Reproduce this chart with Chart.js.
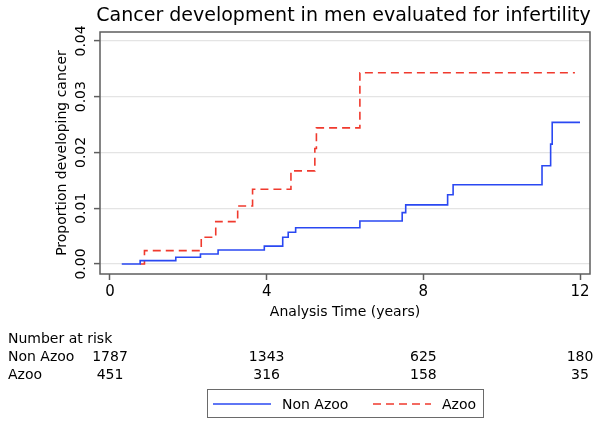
<!DOCTYPE html>
<html lang="en">

<head>
    <meta charset="UTF-8">
    <title>Cancer development in men evaluated for infertility</title>
    <script src="https://cdn.jsdelivr.net/npm/chart.js"></script>
    <style>
        body { margin: 0; background: #fff; }
    </style>
</head>

<body>
    <canvas id="kmChart" width="602" height="428"></canvas>
    <script>
        // step curves (time in years, cumulative proportion)
        const nonAzooTimes = [0.3, 0.77, 1.68, 2.31, 2.76, 3.94, 4.41, 4.55, 4.74, 6.38, 7.46, 7.55, 8.62, 8.76, 11.03, 11.25, 11.29, 12.0];
        const nonAzooProps = [0, 0.0006, 0.0012, 0.0018, 0.0025, 0.0032, 0.0048, 0.0057, 0.0065, 0.0077, 0.0092, 0.0106, 0.0124, 0.0142, 0.0176, 0.0215, 0.0254, 0.0254];
        const azooTimes = [0.77, 0.88, 2.33, 2.7, 3.26, 3.64, 4.62, 5.23, 5.27, 6.38, 11.87];
        const azooProps = [0, 0.0024, 0.0048, 0.0076, 0.0104, 0.0134, 0.0167, 0.0207, 0.0244, 0.0343, 0.0343];

        // number at risk table
        const riskTimes = [0, 4, 8, 12];
        const riskNonAzoo = [1787, 1343, 625, 180];
        const riskAzoo = [451, 316, 158, 35];

        const FONT = 'DejaVu Sans';
        const BLUE = '#2a48f2';
        const RED = '#f03a2e';

        function toPoints(times, props) {
            return times.map((t, i) => ({ x: t, y: props[i] }));
        }

        // title, frame, number-at-risk rows and the boxed legend
        const extras = {
            id: 'extras',
            afterDraw(chart) {
                const ctx = chart.ctx;
                const area = chart.chartArea;
                const xs = chart.scales.x;
                ctx.save();

                ctx.strokeStyle = '#5e5e5e';
                ctx.lineWidth = 1.5;
                ctx.strokeRect(area.left, area.top, area.right - area.left, area.bottom - area.top);

                ctx.fillStyle = '#000';
                ctx.textBaseline = 'middle';
                ctx.font = '19px ' + FONT;
                ctx.textAlign = 'center';
                ctx.fillText('Cancer development in men evaluated for infertility', 343.5, 16.5);

                ctx.font = '14px ' + FONT;
                ctx.textAlign = 'left';
                ctx.fillText('Number at risk', 8, 339);
                ctx.fillText('Non Azoo', 8, 357);
                ctx.fillText('Azoo', 8, 375);
                ctx.textAlign = 'center';
                riskTimes.forEach((t, i) => {
                    const px = xs.getPixelForValue(t);
                    ctx.fillText(String(riskNonAzoo[i]), px, 357);
                    ctx.fillText(String(riskAzoo[i]), px, 375);
                });

                // legend box
                ctx.strokeStyle = '#6a6a6a';
                ctx.lineWidth = 1;
                ctx.strokeRect(207.5, 389.5, 276, 28);
                const ly = 404;
                chart.data.datasets.forEach((ds, i) => {
                    const x0 = i === 0 ? 213 : 373;
                    ctx.beginPath();
                    ctx.strokeStyle = ds.borderColor;
                    ctx.lineWidth = ds.borderWidth;
                    ctx.setLineDash(ds.borderDash || []);
                    ctx.moveTo(x0, ly);
                    ctx.lineTo(x0 + 58, ly);
                    ctx.stroke();
                    ctx.setLineDash([]);
                    ctx.textAlign = 'left';
                    ctx.fillText(ds.label, i === 0 ? 282 : 442, ly + 1);
                });
                ctx.restore();
            }
        };

        const ctx = document.getElementById('kmChart').getContext('2d');
        new Chart(ctx, {
            type: 'line',
            data: {
                datasets: [
                    {
                        label: 'Non Azoo',
                        data: toPoints(nonAzooTimes, nonAzooProps),
                        borderColor: BLUE,
                        borderWidth: 1.6,
                        stepped: 'before',
                        pointRadius: 0,
                        fill: false
                    },
                    {
                        label: 'Azoo',
                        data: toPoints(azooTimes, azooProps),
                        borderColor: RED,
                        borderWidth: 1.6,
                        borderDash: [8, 5],
                        stepped: 'before',
                        pointRadius: 0,
                        fill: false
                    }
                ]
            },
            options: {
                responsive: false,
                animation: false,
                layout: { padding: { left: 40, right: 12, top: 32, bottom: 104 } },
                plugins: {
                    legend: { display: false },
                    tooltip: { enabled: false }
                },
                scales: {
                    x: {
                        type: 'linear',
                        min: -0.255,
                        max: 12.255,
                        afterFit(scale) { scale.height = 50; },
                        border: { display: false },
                        grid: { drawOnChartArea: false, tickLength: 6, tickColor: '#5e5e5e', tickWidth: 1.5 },
                        ticks: { stepSize: 4, includeBounds: false, color: '#000', padding: 3, font: { family: FONT, size: 15 } },
                        title: {
                            display: true,
                            text: 'Analysis Time (years)',
                            color: '#000',
                            font: { family: FONT, size: 14 },
                            padding: { top: 0, bottom: 3.6 }
                        }
                    },
                    y: {
                        min: -0.0018,
                        max: 0.0416,
                        afterFit(scale) { scale.width = 60; },
                        border: { display: false },
                        grid: { color: '#e4e4e4', lineWidth: 1.2, tickLength: 6, tickColor: '#5e5e5e', tickWidth: 1.5 },
                        ticks: {
                            stepSize: 0.01,
                            includeBounds: false,
                            minRotation: 90,
                            maxRotation: 90,
                            crossAlign: 'center',
                            padding: -3,
                            color: '#000',
                            font: { family: FONT, size: 14 },
                            callback: v => v.toFixed(2)
                        },
                        title: {
                            display: true,
                            text: 'Proportion developing cancer',
                            color: '#000',
                            font: { family: FONT, size: 14 },
                            padding: { top: 13.6, bottom: 0 }
                        }
                    }
                }
            },
            plugins: [extras]
        });
    </script>
</body>

</html>
